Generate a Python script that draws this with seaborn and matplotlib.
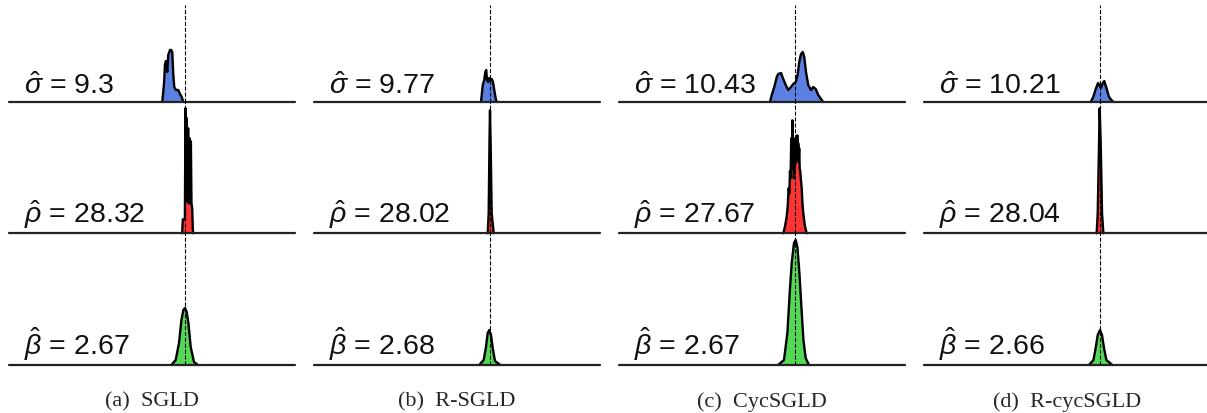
import numpy as np
import pandas as pd
import seaborn as sns
import matplotlib.pyplot as plt

# posterior density curves (x in parameter units, y = relative height)
sgld_sigma_x = [9.09, 9.16, 9.20, 9.24, 9.29, 9.33, 9.40, 9.45, 9.49, 9.53, 9.57, 9.64, 9.73, 9.80, 9.87, 9.93]
sgld_sigma_y = [0, 18, 38, 41, 30, 47, 52, 52, 50, 28, 15, 12, 12, 8, 5, 0]
rsgld_sigma_x = [9.64, 9.71, 9.77, 9.81, 9.85, 9.88, 9.93, 9.97, 10.01, 10.07, 10.12, 10.17, 10.24, 10.28]
rsgld_sigma_y = [0, 17, 22, 30, 32, 22, 20, 24, 22, 23, 20, 12, 2, 0]
cyc_sigma_x = [9.00, 9.07, 9.17, 9.27, 9.33, 9.44, 9.53, 9.63, 9.73, 9.84, 9.93, 10.03, 10.11,
               10.17, 10.24, 10.31, 10.37, 10.44, 10.53, 10.64, 10.73, 10.83, 10.93, 11.07, 11.13]
cyc_sigma_y = [0, 7, 15, 25, 28, 29, 23, 17, 12, 15, 18, 20, 28, 40, 48, 50, 45, 30, 17, 12, 15, 13, 7, 2, 0]
rcyc_sigma_x = [9.63, 9.73, 9.83, 9.92, 9.99, 10.04, 10.11, 10.17, 10.27, 10.36, 10.49, 10.56]
rcyc_sigma_y = [0, 5, 13, 19, 16, 14, 19, 21, 13, 5, 1, 0]

sgld_rho_x = [27.76, 27.82, 27.99, 28.04, 28.10, 28.15, 28.21, 28.26, 28.32, 28.38, 28.43, 28.49,
              28.54, 28.60, 28.65, 28.68]
sgld_rho_y = [0, 14, 14, 125, 35, 115, 32, 105, 30, 95, 30, 92, 30, 25, 5, 0]
rsgld_rho_x = [27.81, 27.89, 27.96, 28.00, 28.06, 28.14, 28.31]
rsgld_rho_y = [0, 20, 95, 123, 85, 20, 0]
cyc_rho_x = [27.03, 27.17, 27.31, 27.40, 27.47, 27.53, 27.58, 27.63, 27.69, 27.73, 27.78, 27.82,
             27.86, 27.90, 27.94, 27.98, 28.03, 28.07, 28.11, 28.15, 28.19, 28.23, 28.27, 28.31,
             28.35, 28.39, 28.44, 28.48, 28.56, 28.62, 28.69, 28.83, 28.98]
cyc_rho_y = [0, 7, 17, 28, 45, 40, 62, 55, 95, 70, 113, 65, 80, 55, 60, 75, 95, 70, 88, 72, 98,
             75, 90, 72, 85, 65, 62, 55, 45, 30, 20, 7, 0]
rcyc_rho_x = [27.72, 27.81, 27.92, 27.97, 28.06, 28.17, 28.28]
rcyc_rho_y = [0, 20, 90, 125, 90, 20, 0]

sgld_beta_x = [2.6213, 2.6357, 2.6467, 2.6547, 2.6613, 2.6667, 2.6723, 2.6780, 2.6857, 2.6967, 2.7100]
sgld_beta_y = [0, 5, 22, 45, 55, 57, 53, 42, 18, 3, 0]
rsgld_beta_x = [2.6310, 2.6457, 2.6533, 2.6590, 2.6643, 2.6700, 2.6757, 2.6833, 2.7010]
rsgld_beta_y = [0, 5, 18, 32, 35, 30, 17, 4, 0]
cyc_beta_x = [2.6100, 2.6300, 2.6413, 2.6490, 2.6557, 2.6633, 2.6690, 2.6747, 2.6813, 2.6880,
              2.6947, 2.7023, 2.7133]
cyc_beta_y = [0, 5, 32, 72, 102, 122, 125, 118, 92, 58, 25, 7, 0]
rcyc_beta_x = [2.6300, 2.6447, 2.6523, 2.6590, 2.6667, 2.6733, 2.6800, 2.6880, 2.7080]
rcyc_beta_y = [0, 5, 17, 30, 35, 30, 17, 5, 0]

captions = ["(a)  SGLD", "(b)  R-SGLD", "(c)  CycSGLD", "(d)  R-cycSGLD"]
sigma_hat = ["9.3", "9.77", "10.43", "10.21"]
rho_hat = ["28.32", "28.02", "27.67", "28.04"]
beta_hat = ["2.67", "2.68", "2.67", "2.66"]
true_vals = [10.0, 28.0, 8 / 3]

curves = [
    [(sgld_sigma_x, sgld_sigma_y), (rsgld_sigma_x, rsgld_sigma_y), (cyc_sigma_x, cyc_sigma_y), (rcyc_sigma_x, rcyc_sigma_y)],
    [(sgld_rho_x, sgld_rho_y), (rsgld_rho_x, rsgld_rho_y), (cyc_rho_x, cyc_rho_y), (rcyc_rho_x, rcyc_rho_y)],
    [(sgld_beta_x, sgld_beta_y), (rsgld_beta_x, rsgld_beta_y), (cyc_beta_x, cyc_beta_y), (rcyc_beta_x, rcyc_beta_y)],
]
hats = [sigma_hat, rho_hat, beta_hat]
symbols = [r"\hat{\sigma}", r"\hat{\rho}", r"\hat{\beta}"]
fills = ["#5b80e2", "#ff3333", "#55d855"]

sns.set_style("white")
plt.rcParams["font.family"] = ["Liberation Sans", "DejaVu Sans"]
plt.rcParams["mathtext.fontset"] = "custom"
plt.rcParams["mathtext.rm"] = "Liberation Sans"
plt.rcParams["mathtext.it"] = "Liberation Sans:italic"

W, H = 1207, 413
fig = plt.figure(figsize=(W / 100, H / 100), dpi=100)

col_left = [9, 314, 619, 924]
col_w = 286
row_top = [5, 102, 233.3]
row_bot = [102, 233.3, 365]
px_per_unit = [25, 12, 300]
label_off = [8, 10, 10]

for r in range(3):
    h = row_bot[r] - row_top[r]
    lo = true_vals[r] - 176 / px_per_unit[r]
    hi = true_vals[r] + 110 / px_per_unit[r]
    for c in range(4):
        ax = fig.add_axes([col_left[c] / W, 1 - row_bot[r] / H, col_w / W, h / H])
        xs, ys = curves[r][c]
        df = pd.DataFrame({"x": xs, "y": ys})
        ax.fill_between(df["x"], df["y"], color=fills[r], lw=0, zorder=2)
        sns.lineplot(data=df, x="x", y="y", ax=ax, color="black", linewidth=1.7,
                     sort=False, estimator=None, zorder=3, clip_on=False)
        ax.axhline(0, color="#222222", lw=1.6, zorder=4, clip_on=False)
        ax.axvline(true_vals[r], color="black", ls="--", lw=0.8, zorder=5)
        ax.set_xlim(lo, hi)
        ax.set_ylim(0, h)
        ax.set_axis_off()
        ax.text(15 / col_w, label_off[r] / h, rf"${symbols[r]}$ = {hats[r][c]}",
                transform=ax.transAxes, ha="left", va="baseline", fontsize=20.5, color="#111111")

for c in range(4):
    fig.text((col_left[c] + col_w / 2) / W, 1 - 406.5 / H, captions[c], ha="center", va="baseline",
             family="Liberation Serif", fontsize=16)

fig.savefig("out.png", dpi=100)
